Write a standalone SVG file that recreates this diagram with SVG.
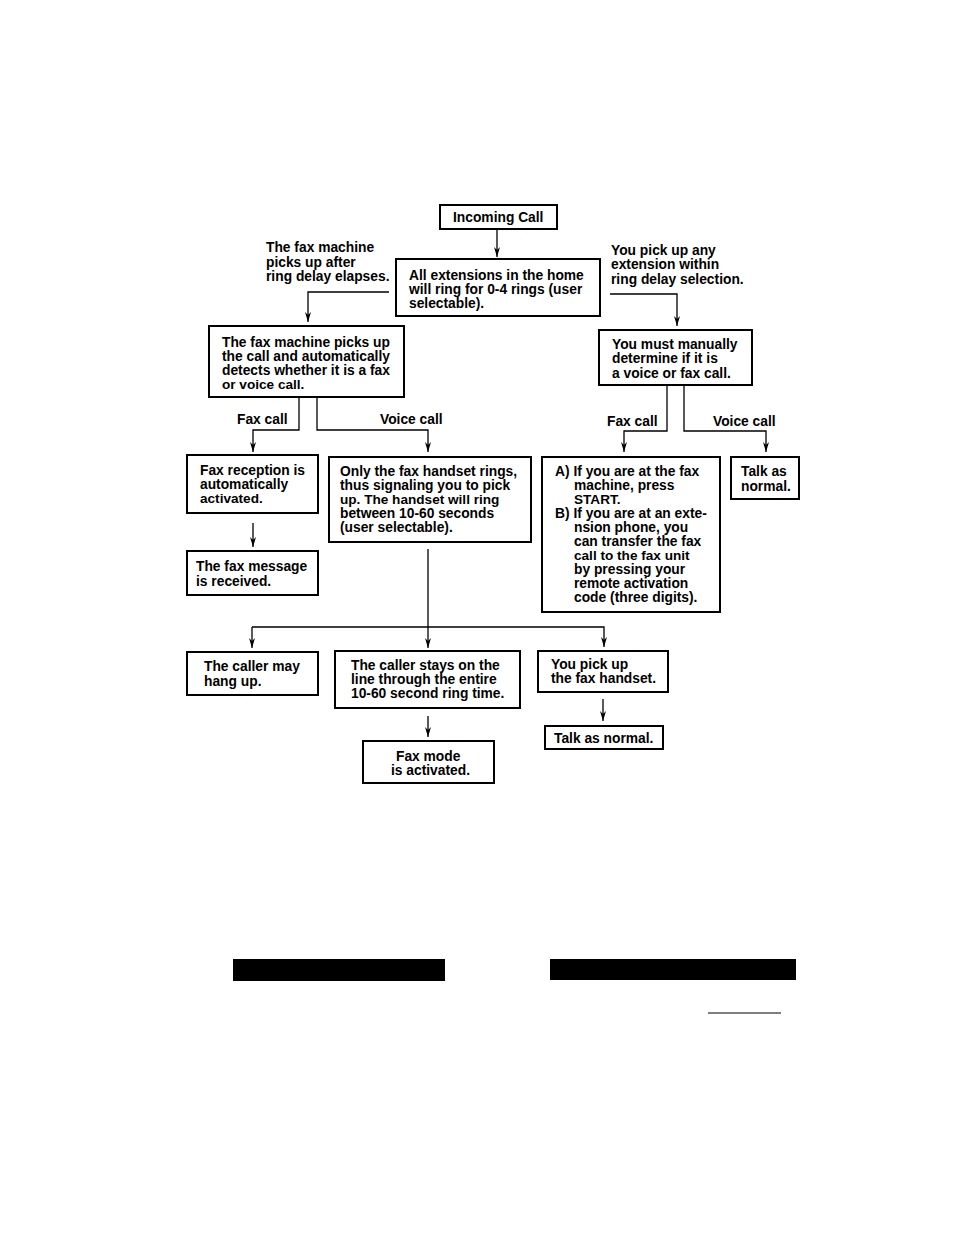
<svg xmlns="http://www.w3.org/2000/svg" width="954" height="1235" viewBox="0 0 954 1235">
<defs>
<marker id="ah" viewBox="0 0 10 6" refX="10" refY="3" markerWidth="10" markerHeight="6" markerUnits="userSpaceOnUse" orient="auto">
<path d="M0,0 L10,3 L0,6 L3,3 Z" fill="#000"/>
</marker>
<style>
.box{fill:#fff;stroke:#000;stroke-width:2}
.t{font-family:"Liberation Sans",Arial,sans-serif;font-weight:bold;font-size:13.8px;fill:#000}
.s{font-size:13.6px}
.c{fill:none;stroke:#000;stroke-width:1.3}
.ca{fill:none;stroke:#000;stroke-width:1.3;marker-end:url(#ah)}
</style>
</defs>
<rect width="954" height="1235" fill="#fff"/>

<g id="connectors">
<path class="ca" d="M497,230 V257"/>
<path class="ca" d="M389,292 H308 V322"/>
<path class="ca" d="M610,294 H677 V326"/>
<path class="ca" d="M299,397 V430 H253 V452"/>
<path class="ca" d="M317,397 V430 H428 V452"/>
<path class="ca" d="M667,386 V431 H624 V452"/>
<path class="ca" d="M684,386 V431 H766 V452"/>
<path class="ca" d="M253,523 V547"/>
<path class="c" d="M428,549 V627"/>
<path class="ca" d="M252,627 V648"/>
<path class="ca" d="M428,627 V648"/>
<path class="ca" d="M252,627 H604 V647"/>
<path class="ca" d="M428,716 V737"/>
<path class="ca" d="M603,699 V721"/>
</g>

<g id="incoming">
<rect class="box" x="440" y="205" width="117" height="24"/>
<text class="t" x="453" y="222">Incoming Call</text>
</g>

<g id="label-left">
<text class="t" x="266" y="252">The fax machine</text>
<text class="t" x="266" y="267">picks up after</text>
<text class="t" x="266" y="281">ring delay elapses.</text>
</g>

<g id="all-ext">
<rect class="box" x="396" y="259" width="204" height="57"/>
<text class="t" x="409" y="280">All extensions in the home</text>
<text class="t" x="409" y="294">will ring for 0-4 rings (user</text>
<text class="t" x="409" y="308">selectable).</text>
</g>

<g id="label-right">
<text class="t" x="611" y="255">You pick up any</text>
<text class="t" x="611" y="269">extension within</text>
<text class="t" x="611" y="284">ring delay selection.</text>
</g>

<g id="fax-picks">
<rect class="box" x="209" y="326" width="195" height="71"/>
<text class="t" x="222" y="347">The fax machine picks up</text>
<text class="t" x="222" y="361">the call and automatically</text>
<text class="t" x="222" y="375">detects whether it is a fax</text>
<text class="t s" x="222" y="389">or voice call.</text>
</g>

<g id="manual">
<rect class="box" x="599" y="330" width="153" height="55"/>
<text class="t" x="612" y="349">You must manually</text>
<text class="t" x="612" y="363">determine if it is</text>
<text class="t" x="612" y="378">a voice or fax call.</text>
</g>

<g id="labels-calls">
<text class="t" x="237" y="424">Fax call</text>
<text class="t" x="380" y="424">Voice call</text>
<text class="t" x="607" y="426">Fax call</text>
<text class="t" x="713" y="426">Voice call</text>
</g>

<g id="fax-reception">
<rect class="box" x="187" y="455" width="131" height="58"/>
<text class="t" x="200" y="475">Fax reception is</text>
<text class="t" x="200" y="489">automatically</text>
<text class="t s" x="200" y="503">activated.</text>
</g>

<g id="handset-rings">
<rect class="box" x="329" y="457" width="202" height="85"/>
<text class="t" x="340" y="476">Only the fax handset rings,</text>
<text class="t" x="340" y="490">thus signaling you to pick</text>
<text class="t s" x="340" y="504">up. The handset will ring</text>
<text class="t" x="340" y="518">between 10-60 seconds</text>
<text class="t" x="340" y="532">(user selectable).</text>
</g>

<g id="ab-box">
<rect class="box" x="542" y="457" width="178" height="155"/>
<text class="t" x="555" y="476">A) If you are at the fax</text>
<text class="t" x="574" y="490">machine, press</text>
<text class="t s" x="574" y="504">START.</text>
<text class="t" x="555" y="518">B) If you are at an exte-</text>
<text class="t" x="574" y="532">nsion phone, you</text>
<text class="t" x="574" y="546">can transfer the fax</text>
<text class="t s" x="574" y="560">call to the fax unit</text>
<text class="t" x="574" y="574">by pressing your</text>
<text class="t" x="574" y="588">remote activation</text>
<text class="t" x="574" y="602">code (three digits).</text>
</g>

<g id="talk-as">
<rect class="box" x="731" y="457" width="68" height="42"/>
<text class="t" x="741" y="476">Talk as</text>
<text class="t" x="741" y="491">normal.</text>
</g>

<g id="fax-message">
<rect class="box" x="187" y="551" width="131" height="44"/>
<text class="t" x="196" y="571">The fax message</text>
<text class="t" x="196" y="586">is received.</text>
</g>

<g id="caller-hang">
<rect class="box" x="187" y="652" width="131" height="43"/>
<text class="t" x="204" y="671">The caller may</text>
<text class="t" x="204" y="686">hang up.</text>
</g>

<g id="caller-stays">
<rect class="box" x="335" y="651" width="185" height="57"/>
<text class="t" x="351" y="670">The caller stays on the</text>
<text class="t" x="351" y="684">line through the entire</text>
<text class="t" x="351" y="698">10-60 second ring time.</text>
</g>

<g id="pick-handset">
<rect class="box" x="538" y="651" width="130" height="41"/>
<text class="t" x="551" y="669">You pick up</text>
<text class="t" x="551" y="683">the fax handset.</text>
</g>

<g id="talk-normal">
<rect class="box" x="545" y="726" width="118" height="23"/>
<text class="t" x="554" y="743">Talk as normal.</text>
</g>

<g id="fax-mode">
<rect class="box" x="363" y="741" width="131" height="42"/>
<text class="t" x="396" y="761">Fax mode</text>
<text class="t" x="391" y="775">is activated.</text>
</g>

<g id="footer">
<rect x="233" y="959" width="212" height="22" fill="#000"/>
<rect x="550" y="959" width="246" height="21" fill="#000"/>
<line x1="708" y1="1013" x2="781" y2="1013" stroke="#000" stroke-width="1.2"/>
</g>
</svg>
